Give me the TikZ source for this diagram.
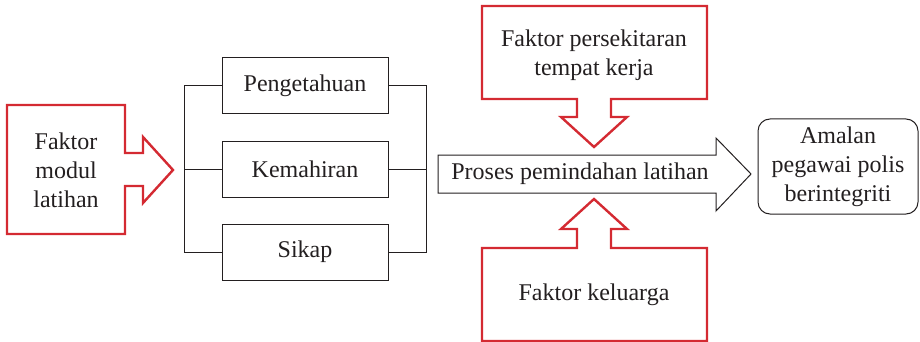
\documentclass[tikz,border=0pt]{standalone}
\usepackage{fontspec}
\setmainfont{Liberation Serif}
\newfontfamily\diagfont{Liberation Serif}
\definecolor{faktorred}{HTML}{D42A32}
\definecolor{inkgray}{HTML}{231F20}
\begin{document}
\begin{tikzpicture}[x=0.5pt, y=-0.5pt, font=\diagfont\fontsize{12}{14.4}\selectfont, text=inkgray]
\tikzstyle{block} = [rectangle, minimum width=83pt, minimum height=28pt, text centered, draw=inkgray, line width=0.5pt]
\tikzstyle{rounded} = [rectangle, rounded corners=6pt, minimum width=80pt, minimum height=47.5pt, align=center, draw=inkgray, line width=0.5pt]
\tikzstyle{plain} = [align=center, inner sep=0pt]
\tikzstyle{redline} = [draw=faktorred, line width=1.2pt, line join=miter]
\tikzstyle{line} = [draw=inkgray, line width=0.5pt]
%
\useasboundingbox (0,0) rectangle (920,342);
%
\node (modul)        [plain] at (66,170) {Faktor\\modul\\latihan};
\node (pengetahuan)  [block] at (305,86) {Pengetahuan};
\node (kemahiran)    [block] at (305,169.5) {Kemahiran};
\node (sikap)        [block] at (305,252) {Sikap};
\node (proses)       [plain] at (580,174) {Proses pemindahan latihan};
\node (persekitaran) [plain] at (594,55) {Faktor persekitaran\\tempat kerja};
\node (keluarga)     [plain] at (594,295) {Faktor keluarga};
\node (amalan)       [rounded] at (838,166.5) {Amalan\\pegawai polis\\berintegriti};
%
\draw [redline] (7,105) -- (125,105) -- (125,153) -- (143,153) -- (143,137) -- (173,170)
  -- (143,203) -- (143,186) -- (125,186) -- (125,234) -- (7,234) -- cycle;
\draw [redline] (482,6) -- (707,6) -- (707,99) -- (611,99) -- (611,117) -- (627,117) -- (594,147)
  -- (561,117) -- (577,117) -- (577,99) -- (482,99) -- cycle;
\draw [redline] (482,341) -- (707,341) -- (707,248) -- (611,248) -- (611,229) -- (627,229) -- (594,199)
  -- (561,229) -- (577,229) -- (577,248) -- (482,248) -- cycle;
\draw [line] (438,155) -- (716,155) -- (716,138) -- (751,174) -- (716,211) -- (716,193) -- (438,193) -- cycle;
%
\draw [line] (pengetahuan.west) -- ++(-37,0) |- (sikap.west);
\draw [line] (kemahiran.west) -- ++(-37,0);
\draw [line] (pengetahuan.east) -- ++(38,0) |- (sikap.east);
\draw [line] (kemahiran.east) -- ++(38,0);
\end{tikzpicture}
\end{document}
